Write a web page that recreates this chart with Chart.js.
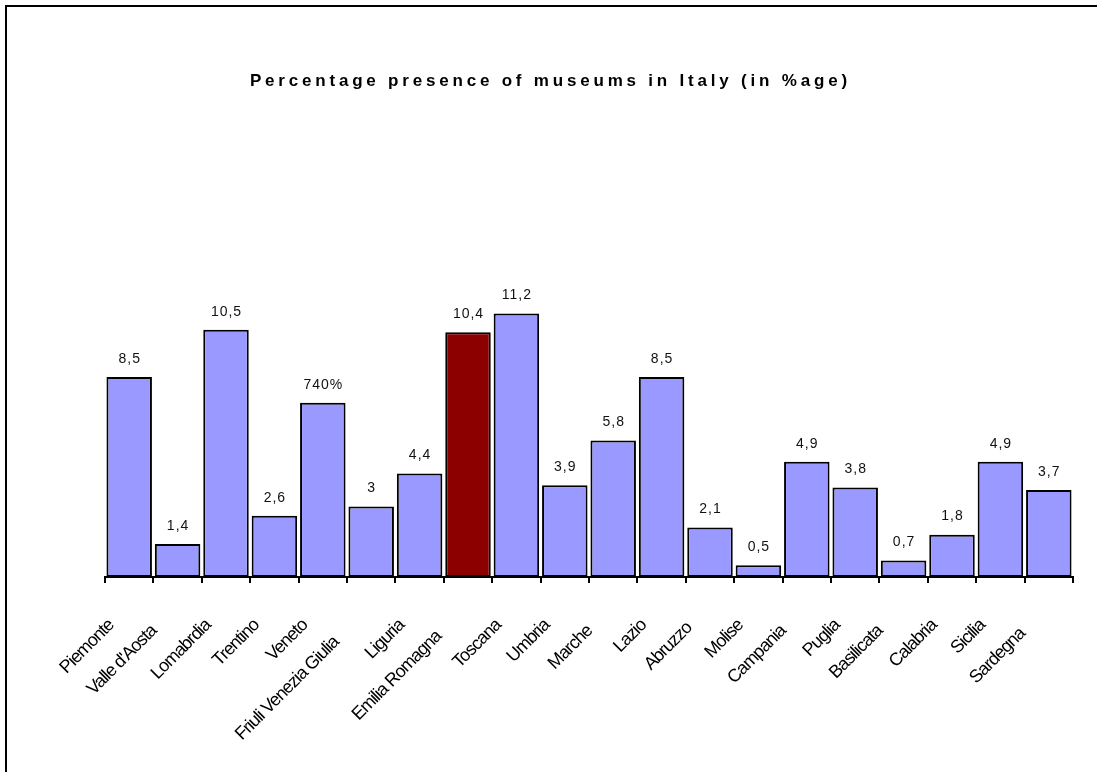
<!DOCTYPE html>
<html>
<head>
<meta charset="utf-8">
<title>Percentage presence of museums in Italy</title>
<script src="https://cdn.jsdelivr.net/npm/chart.js@4.4.0/dist/chart.umd.min.js"></script>
<style>
  html, body { margin: 0; padding: 0; background: #fff; }
  #wrap { position: relative; width: 1097px; height: 772px; overflow: hidden; }
  #wrap canvas { position: absolute; left: 0; top: 0; }
  #frame { position: absolute; left: 5px; top: 5px; width: 1200px; height: 900px;
           border-top: 2px solid #000; border-left: 2px solid #000; pointer-events: none; }
</style>
</head>
<body>
<div id="wrap">
  <canvas id="chart" width="1097" height="772"></canvas>
  <div id="frame"></div>
</div>
<script>
// Regions of Italy, in the order they are plotted
const regions = [
  "Piemonte", "Valle d'Aosta", "Lomabrdia", "Trentino", "Veneto",
  "Friuli Venezia Giulia", "Liguria", "Emilia Romagna", "Toscana", "Umbria",
  "Marche", "Lazio", "Abruzzo", "Molise", "Campania",
  "Puglia", "Basilicata", "Calabria", "Sicilia", "Sardegna"
];

// Share of the national museums located in each region (%)
const shares = [
  8.5, 1.4, 10.5, 2.6, 7.4,
  3, 4.4, 10.4, 11.2, 3.9,
  5.8, 8.5, 2.1, 0.5, 4.9,
  3.8, 0.7, 1.8, 4.9, 3.7
];

// Region singled out in a different colour
const highlightedRegion = "Emilia Romagna";

// Regions whose value label uses the percent cell format
const percentFormattedRegions = ["Veneto"];

const chartTitle = "Percentage presence of museums in Italy (in %age)";

// ---- presentation ----
const FONT = '"Liberation Sans", Arial, Helvetica, sans-serif';
const BAR_FILL = '#9999FF';
const BAR_HIGHLIGHT = '#8C0000';

// category labels pushed further along their slant so they clear their neighbours
// (index -> number of trailing spaces)
const labelStagger = { 1: 2, 5: 6, 7: 4, 10: 2, 12: 1, 14: 2, 16: 2, 19: 3 };

function formatShare(i) {
  const v = shares[i];
  if (percentFormattedRegions.includes(regions[i])) {
    return Math.round(v * 100) + '%';
  }
  return String(v).replace('.', ',');
}

// value labels above each bar
const valueLabels = {
  id: 'valueLabels',
  afterDatasetsDraw(chart) {
    const ctx = chart.ctx;
    const meta = chart.getDatasetMeta(0);
    ctx.save();
    ctx.font = '14px ' + FONT;
    ctx.fillStyle = '#111';
    ctx.textAlign = 'center';
    ctx.textBaseline = 'middle';
    ctx.letterSpacing = '1px';
    meta.data.forEach((bar, i) => {
      ctx.fillText(formatShare(i), bar.x + 0.5, bar.y - 18);
    });
    ctx.restore();
  }
};

// tracked title lettering (centred on the page) and condensed category labels
const lettering = {
  id: 'lettering',
  beforeDraw(chart) {
    const tb = chart.titleBlock;
    if (tb && !tb._tracked) {
      const draw = tb.draw.bind(tb);
      tb.draw = function (area) {
        const c = chart.ctx;
        c.save();
        c.letterSpacing = '3.8px';
        c.translate(chart.width / 2 - (tb.left + tb.right) / 2 + 1.9, 0);
        draw(area);
        c.restore();
      };
      tb._tracked = true;
    }
    const xs = chart.scales.x;
    if (xs && !xs._condensed) {
      const drawLabels = xs.drawLabels.bind(xs);
      xs.drawLabels = function (area) {
        const c = chart.ctx;
        c.save();
        c.letterSpacing = '-1px';
        drawLabels(area);
        c.restore();
      };
      xs._condensed = true;
    }
  }
};

new Chart(document.getElementById('chart'), {
  type: 'bar',
  data: {
    labels: regions,
    datasets: [{
      data: shares,
      backgroundColor: regions.map(r => r === highlightedRegion ? BAR_HIGHLIGHT : BAR_FILL),
      borderColor: '#000',
      borderWidth: 2,
      borderSkipped: false,
      barPercentage: 0.94,
      categoryPercentage: 1.0
    }]
  },
  options: {
    responsive: false,
    animation: false,
    devicePixelRatio: 1,
    layout: { padding: { top: 0, left: 105, right: 24, bottom: 0 } },
    plugins: {
      legend: { display: false },
      tooltip: { enabled: false },
      title: {
        display: true,
        text: chartTitle,
        color: '#000',
        font: { family: FONT, size: 17, weight: 'bold' },
        padding: { top: 71, bottom: 109 }
      }
    },
    scales: {
      x: {
        offset: true,
        border: { display: true, color: '#000', width: 2 },
        grid: {
          display: true,
          offset: true,
          drawOnChartArea: false,
          drawTicks: true,
          tickLength: 6,
          tickWidth: 2,
          tickColor: '#000',
          color: '#000',
          lineWidth: 2
        },
        ticks: {
          autoSkip: false,
          minRotation: 45,
          maxRotation: 45,
          padding: 32,
          labelOffset: -18,
          color: '#000',
          font: { family: FONT, size: 18 },
          callback: (value, index) => regions[index] + ' '.repeat(labelStagger[index] || 0)
        },
        afterFit(scale) { scale.height = 195; }
      },
      y: {
        display: false,
        min: 0,
        max: 16
      }
    }
  },
  plugins: [valueLabels, lettering]
});
</script>
</body>
</html>
